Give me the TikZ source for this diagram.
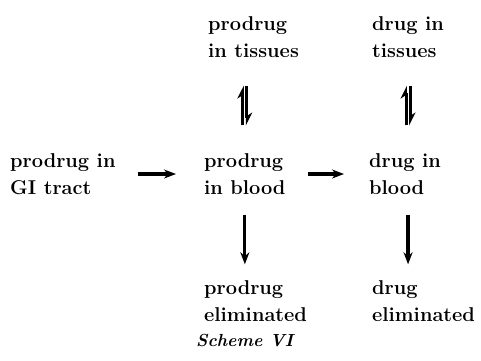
\documentclass[tikz,border=0pt]{standalone}
\usetikzlibrary{arrows.meta}
\begin{document}
\begin{tikzpicture}[x=1pt,y=-1pt,
  lbl/.style={anchor=west,align=left,inner sep=0pt,font=\bfseries\fontsize{20}{27}\selectfont},
  arr/.style={line width=3.2pt,-{Stealth[length=12pt,width=9pt]}},
  harp/.style={line width=3pt,-{Stealth[left,length=11pt,width=11pt]}}]
\useasboundingbox (0,0) rectangle (481,360);
\node[lbl] (gi) at (10,174) {prodrug in\\GI tract};
\node[lbl] (pb) at (204,174) {prodrug\\in blood};
\node[lbl] (db) at (369,174) {drug in\\blood};
\node[lbl] (pt) at (208,37) {prodrug\\in tissues};
\node[lbl] (dt) at (372,37) {drug in\\tissues};
\node[lbl] (pe) at (204,301) {prodrug\\eliminated};
\node[lbl] (de) at (372,301) {drug\\eliminated};
\node[anchor=west,inner sep=0pt,font=\bfseries\itshape\fontsize{17.5}{20}\selectfont] (cap) at (196,340) {Scheme VI};
\draw[arr,shorten <=22pt,shorten >=28pt] (gi.east) -- (pb.west);
\draw[arr,shorten <=22pt,shorten >=25pt] (pb.east) -- (db.west);
\draw[arr,shorten <=20pt,shorten >=16pt] (pb.south) -- (pb.south |- pe.north);
\draw[arr,shorten <=20pt,shorten >=16pt] ([xshift=3pt]db.south) -- ([xshift=3pt]db.south |- de.north);
\draw[harp,shorten <=28pt,shorten >=28pt] ([xshift=-2pt]pb.north) -- ([xshift=-2pt]pb.north |- pt.south);
\draw[harp,shorten <=28pt,shorten >=28pt] ([xshift=2pt]pb.north |- pt.south) -- ([xshift=2pt]pb.north);
\draw[harp,shorten <=28pt,shorten >=28pt] ([xshift=1pt]db.north) -- ([xshift=1pt]db.north |- dt.south);
\draw[harp,shorten <=28pt,shorten >=28pt] ([xshift=5pt]db.north |- dt.south) -- ([xshift=5pt]db.north);
\end{tikzpicture}
\end{document}
